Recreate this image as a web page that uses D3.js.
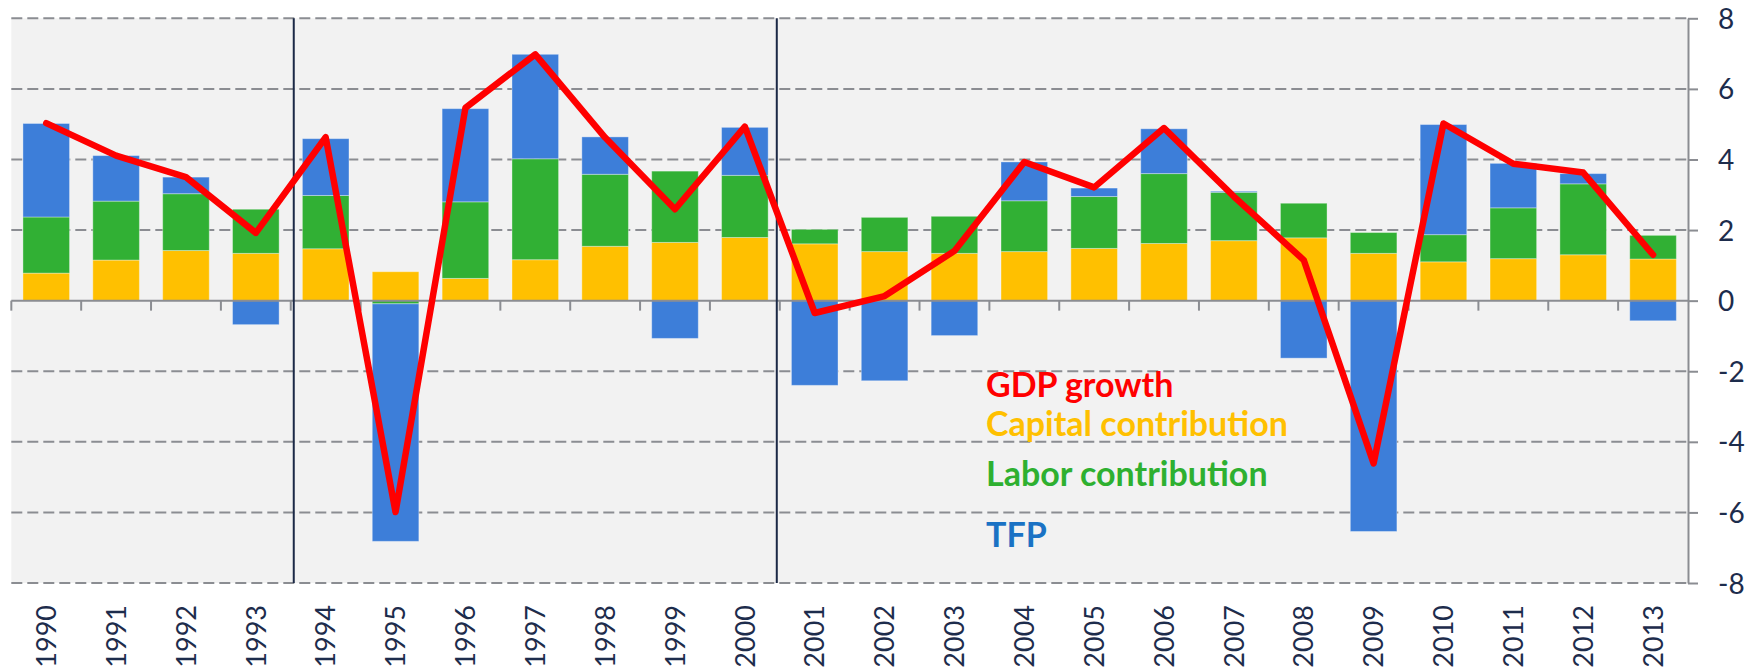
<!DOCTYPE html>
<html>
<head>
<meta charset="utf-8">
<script src="https://cdn.jsdelivr.net/npm/d3@7"></script>
<style>
  body { margin: 0; background: #fff; }
  svg { display: block; font-family: Lato, "Open Sans", sans-serif; }
</style>
</head>
<body>
<svg></svg>
<script>
// chart data
var years = ["1990","1991","1992","1993","1994","1995","1996","1997","1998","1999","2000",
  "2001","2002","2003","2004","2005","2006","2007","2008","2009","2010","2011","2012","2013"];
var capital = [0.78,1.15,1.42,1.34,1.47,0.82,0.63,1.16,1.54,1.65,1.79,
  1.61,1.39,1.34,1.39,1.48,1.62,1.70,1.78,1.34,1.10,1.19,1.30,1.18];
var labor = [1.59,1.67,1.61,1.25,1.51,-0.09,2.17,2.86,2.04,2.02,1.76,
  0.41,0.97,1.05,1.44,1.47,1.98,1.37,0.98,0.59,0.77,1.44,2.01,0.67];
var tfp = [2.65,1.29,0.47,-0.68,1.61,-6.73,2.64,2.96,1.06,-1.07,1.36,
  -2.40,-2.27,-0.99,1.10,0.24,1.27,0.03,-1.63,-6.54,3.12,1.26,0.29,-0.57];
var gdp = [5.03,4.11,3.50,1.92,4.63,-5.99,5.46,6.98,4.62,2.59,4.93,
  -0.35,0.13,1.41,3.93,3.21,4.89,2.95,1.15,-4.61,5.02,3.88,3.63,1.30];
var yTicks = [-8,-6,-4,-2,0,2,4,6,8];
var breakYears = ["1994","2001"];
var legendLabels = ["GDP growth","Capital contribution","Labor contribution","TFP"];

// dimensions
var width = 1755, height = 668;
var plot = {left: 11.3, right: 1688, top: 18.3, bottom: 583};

var svg = d3.select("svg")
    .attr("width", width)
    .attr("height", height);

var x = d3.scaleBand()
    .domain(years)
    .range([plot.left, plot.right])
    .paddingInner(0.333)
    .paddingOuter(0.1667);

var y = d3.scaleLinear()
    .domain([-8, 8])
    .range([plot.bottom, plot.top]);

var colors = {capital: "#ffc000", labor: "#31b034", tfp: "#3d7ed9"};

// background
svg.append("rect")
    .attr("x", plot.left)
    .attr("y", plot.top)
    .attr("width", plot.right - plot.left)
    .attr("height", plot.bottom - plot.top)
    .attr("fill", "#f2f2f2");

// dashed gridlines
svg.append("g")
  .selectAll("line")
  .data(yTicks.filter(function(d) { return d !== 0; }))
  .enter()
  .append("line")
    .attr("x1", plot.left)
    .attr("x2", plot.right)
    .attr("y1", function(d) { return y(d); })
    .attr("y2", function(d) { return y(d); })
    .attr("stroke", "#8b8d92")
    .attr("stroke-width", 2)
    .attr("stroke-dasharray", "11,5");

// stacked bars
var rows = years.map(function(yr, i) {
  return {year: yr, capital: capital[i], labor: labor[i], tfp: tfp[i]};
});
var stack = d3.stack()
    .keys(["capital", "labor", "tfp"])
    .offset(d3.stackOffsetDiverging);
var series = stack(rows);

svg.append("g")
  .selectAll("g")
  .data(series)
  .enter()
  .append("g")
    .attr("fill", function(d) { return colors[d.key]; })
  .selectAll("rect")
  .data(function(d) { return d; })
  .enter()
  .append("rect")
    .attr("x", function(d) { return x(d.data.year); })
    .attr("width", x.bandwidth())
    .attr("y", function(d) { return y(Math.max(d[0], d[1])); })
    .attr("height", function(d) { return Math.abs(y(d[0]) - y(d[1])); })
    .attr("stroke", "rgba(255,255,255,0.35)")
    .attr("stroke-width", 1);

// zero line with category ticks
svg.append("line")
    .attr("x1", plot.left)
    .attr("x2", plot.right)
    .attr("y1", y(0))
    .attr("y2", y(0))
    .attr("stroke", "#8b8d92")
    .attr("stroke-width", 2);

var bounds = years.map(function(d) { return x(d) + x.bandwidth() / 2 - x.step() / 2; });
svg.append("g")
  .selectAll("line")
  .data(bounds)
  .enter()
  .append("line")
    .attr("x1", function(d) { return d; })
    .attr("x2", function(d) { return d; })
    .attr("y1", y(0))
    .attr("y2", y(0) + 10)
    .attr("stroke", "#8b8d92")
    .attr("stroke-width", 2);

// period separators (nudged a little, as in the original)
var nudge = [3, -3];
svg.append("g")
  .selectAll("line")
  .data(breakYears)
  .enter()
  .append("line")
    .attr("x1", function(d, i) { return x(d) + x.bandwidth() / 2 - x.step() / 2 + nudge[i]; })
    .attr("x2", function(d, i) { return x(d) + x.bandwidth() / 2 - x.step() / 2 + nudge[i]; })
    .attr("y1", plot.top)
    .attr("y2", plot.bottom)
    .attr("stroke", "#1c2946")
    .attr("stroke-width", 2);

// GDP line
var line = d3.line()
    .x(function(d, i) { return x(years[i]) + x.bandwidth() / 2; })
    .y(function(d) { return y(d); });

svg.append("path")
    .datum(gdp)
    .attr("d", line)
    .attr("fill", "none")
    .attr("stroke", "#ff0000")
    .attr("stroke-width", 6.5)
    .attr("stroke-linejoin", "round")
    .attr("stroke-linecap", "round");

// right axis
var yAxis = svg.append("g")
    .attr("transform", "translate(" + plot.right + ",0)")
    .call(d3.axisRight(y)
      .tickValues(yTicks)
      .tickFormat(function(d) { return String(d); })
      .tickSize(10).tickSizeOuter(0).tickPadding(20));
yAxis.select(".domain").attr("stroke", "#8b8d92").attr("stroke-width", 2);
yAxis.selectAll(".tick line").attr("stroke", "#8b8d92").attr("stroke-width", 2);
yAxis.selectAll("text")
    .attr("fill", "#1d2c4c")
    .attr("dy", "0.36em")
    .style("font-size", "28px")
    .style("font-family", "Lato, sans-serif");

// year labels
var xAxis = svg.append("g")
    .attr("transform", "translate(0," + plot.bottom + ")")
    .call(d3.axisBottom(x).tickSize(0));
xAxis.select(".domain").remove();
xAxis.selectAll("text")
    .attr("transform", "rotate(-90)")
    .attr("x", -22)
    .attr("y", 0)
    .attr("dy", "0.36em")
    .style("text-anchor", "end")
    .attr("fill", "#1d2c4c")
    .style("font-size", "27px")
    .style("font-family", "Lato, sans-serif");

// legend text
var legendColors = ["#ff0000", "#ffc000", "#2eb030", "#1a72c4"];
var legendY = [397, 436, 486, 547];
svg.append("g")
  .selectAll("text")
  .data(legendLabels)
  .enter()
  .append("text")
    .attr("x", 986)
    .attr("y", function(d, i) { return legendY[i]; })
    .attr("fill", function(d, i) { return legendColors[i]; })
    .style("font-size", "34px")
    .style("font-weight", "bold")
    .text(function(d) { return d; });
</script>
</body>
</html>
